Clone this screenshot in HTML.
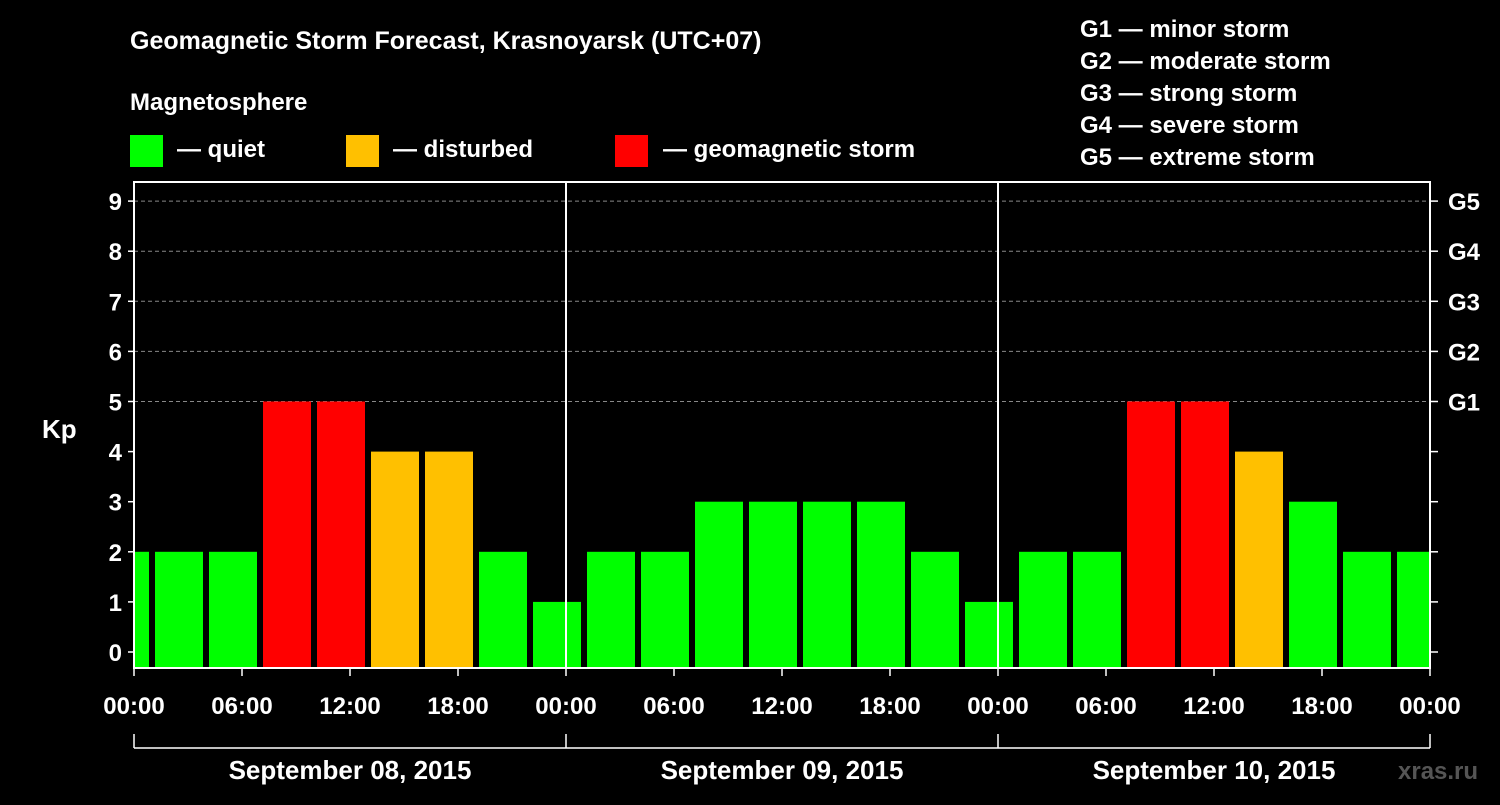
<!DOCTYPE html>
<html><head><meta charset="utf-8"><style>
body{margin:0;background:#000;width:1500px;height:800px;overflow:hidden}
svg text{font-family:"Liberation Sans",Arial,sans-serif;font-weight:bold;fill:#fff}
</style></head><body>
<svg id="chart" width="1500" height="800" xmlns="http://www.w3.org/2000/svg">
<rect width="1500" height="800" fill="#000"/>
<text x="130" y="49" font-size="25">Geomagnetic Storm Forecast, Krasnoyarsk (UTC+07)</text>
<text x="130" y="110" font-size="24">Magnetosphere</text>
<g>
<rect x="130" y="135" width="33" height="32" fill="#00ff00"/>
<text x="177" y="157" font-size="24">— quiet</text>
<rect x="346" y="135" width="33" height="32" fill="#ffc000"/>
<text x="393" y="157" font-size="24">— disturbed</text>
<rect x="615" y="135" width="33" height="32" fill="#ff0000"/>
<text x="663" y="157" font-size="24">— geomagnetic storm</text>
</g>
<g font-size="24">
<text x="1080" y="37">G1 — minor storm</text>
<text x="1080" y="69">G2 — moderate storm</text>
<text x="1080" y="101">G3 — strong storm</text>
<text x="1080" y="133">G4 — severe storm</text>
<text x="1080" y="165">G5 — extreme storm</text>
</g>
<g id="grid"></g><g id="bars"></g><g id="axes"></g>
<text x="42" y="438" font-size="26">Kp</text>
<text x="1398" y="779" font-size="24" style="fill:#555">xras.ru</text>
</svg>
<script>
const kpValues=[2,2,2,5,5,4,4,2,1,2,2,3,3,3,3,2,1,2,2,5,5,4,3,2,2];
const slotStartHours=[-2,1,4,7,10,13,16,19,22,25,28,31,34,37,40,43,46,49,52,55,58,61,64,67,70];
const dayLabels=["September 08, 2015","September 09, 2015","September 10, 2015"];
const xTickLabels=["00:00","06:00","12:00","18:00"];
const gLabels=["G1","G2","G3","G4","G5"];
const X0=134,X1=1430,Y0=668,YT=182;
const hx=h=>X0+(h)*(X1-X0)/72;
const ky=k=>652-k*50.1;
const NS="http://www.w3.org/2000/svg";
function mk(tag,attrs,parent,txt){const e=document.createElementNS(NS,tag);for(const k in attrs)e.setAttribute(k,attrs[k]);if(txt!==undefined)e.textContent=txt;parent.appendChild(e);return e;}
const grid=document.getElementById('grid'),bars=document.getElementById('bars'),axes=document.getElementById('axes');
for(let k=5;k<=9;k++){const l=mk('line',{x1:X0,x2:X1,y1:ky(k),y2:ky(k),stroke:'#888','stroke-dasharray':'4,3','stroke-width':1},grid);

}
kpValues.forEach((v,i)=>{
 const h=slotStartHours[i];
 let a=Math.max(hx(h)+3,X0+1),b=Math.min(hx(h+3)-3,X1-1);
 const col=v>=5?'#ff0000':(v>=4?'#ffc000':'#00ff00');
 const r=mk('rect',{x:a,y:ky(v),width:b-a,height:Y0-ky(v),fill:col},bars);
 
 
});
const fr=mk('rect',{x:X0,y:YT,width:X1-X0,height:Y0-YT,fill:'none',stroke:'#fff','stroke-width':2},axes);


for(let d=1;d<3;d++){const l=mk('line',{x1:hx(24*d),x2:hx(24*d),y1:YT,y2:Y0,stroke:'#fff','stroke-width':2},axes);

}
for(let k=0;k<=9;k++){
 mk('line',{x1:X0-6,x2:X0,y1:ky(k),y2:ky(k),stroke:'#fff','stroke-width':1.5},axes);
 mk('line',{x1:X1,x2:X1+8,y1:ky(k),y2:ky(k),stroke:'#fff','stroke-width':1.5},axes);
 const t=mk('text',{x:X0-12,y:ky(k)+9,'font-size':24,'text-anchor':'end'},axes,String(k));
 
 
}
gLabels.forEach((g,i)=>{const t=mk('text',{x:1448,y:ky(i+5)+9,'font-size':24},axes,g);
 
 });
for(let h=0;h<=72;h+=6){
 mk('line',{x1:hx(h),x2:hx(h),y1:Y0,y2:Y0+8,stroke:'#fff','stroke-width':1.5},axes);
 const t=mk('text',{x:hx(h),y:714,'font-size':24,'text-anchor':'middle'},axes,xTickLabels[(h/6)%4]);
 
 
}
mk('line',{x1:X0,x2:X1,y1:748,y2:748,stroke:'#fff','stroke-width':1.5},axes);
for(let d=0;d<=3;d++)mk('line',{x1:hx(24*d),x2:hx(24*d),y1:734,y2:748,stroke:'#fff','stroke-width':1.5},axes);
dayLabels.forEach((s,i)=>{const t=mk('text',{x:hx(24*i+12),y:779,'font-size':26,'text-anchor':'middle'},axes,s);
 
 });
</script>
</body></html>
